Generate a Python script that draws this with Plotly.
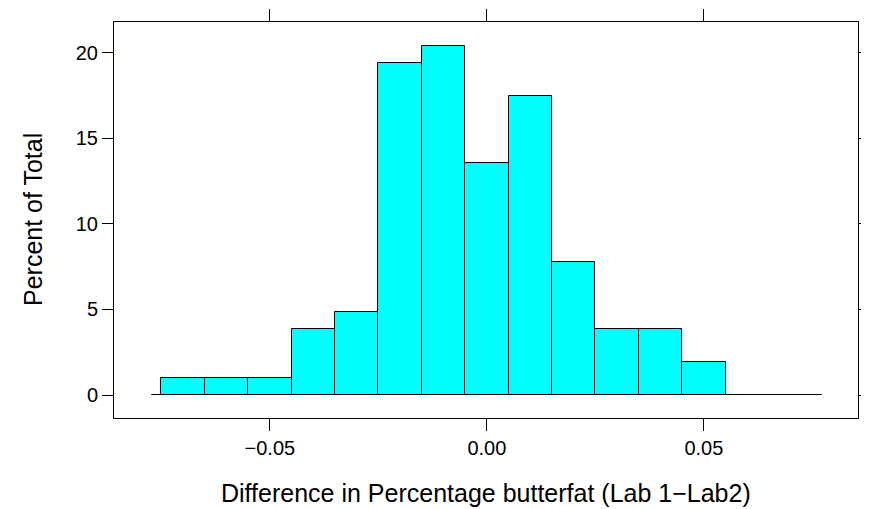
import plotly.graph_objects as go

# bin edges (Difference in % butterfat) and counts per bin
bin_edges = [-0.0772, -0.075, -0.065, -0.055, -0.045, -0.035, -0.025, -0.015, -0.005,
             0.005, 0.015, 0.025, 0.035, 0.045, 0.055, 0.065, 0.075, 0.0772]
counts = [0, 1, 1, 1, 4, 5, 20, 21, 14, 18, 8, 4, 4, 2, 0, 0, 0]
total = sum(counts)
percents = [c / total * 100 for c in counts]

x_tickvals = [-0.05, 0.0, 0.05]
x_ticktext = ["\u22120.05", "0.00", "0.05"]
y_tickvals = [0, 5, 10, 15, 20]

x_title = "Difference in Percentage butterfat (Lab 1\u2212Lab2)"
y_title = "Percent of Total"

centers = [(bin_edges[i] + bin_edges[i + 1]) / 2 for i in range(len(counts))]
widths = [bin_edges[i + 1] - bin_edges[i] for i in range(len(counts))]

fig = go.Figure()
fig.add_trace(go.Bar(
    x=centers, y=percents, width=widths, base=0,
    marker=dict(color="#00FFFF", line=dict(color="black", width=1)),
    hoverinfo="skip",
))

font = "Liberation Sans, Arial, Helvetica, sans-serif"
fig.update_layout(
    width=861, height=501,
    margin=dict(l=106, r=11, t=14, b=91),
    paper_bgcolor="white", plot_bgcolor="white",
    showlegend=False,
    bargap=0,
    font=dict(family=font, size=20, color="black"),
    xaxis=dict(
        range=[-0.0859, 0.0855], automargin=False,
        tickvals=x_tickvals, ticktext=x_ticktext,
        ticks="outside", ticklen=12, tickwidth=1, tickcolor="black",
        showline=True, linecolor="black", linewidth=1, mirror="ticks",
        showgrid=False, zeroline=False,
    ),
    yaxis=dict(
        range=[-1.345, 21.81], automargin=False,
        tickvals=y_tickvals,
        ticks="outside", ticklen=11, tickwidth=1, tickcolor="black",
        showline=True, linecolor="black", linewidth=1, mirror="ticks",
        showgrid=False, zeroline=False,
    ),
    annotations=[
        dict(text=x_title, xref="paper", yref="paper", x=0.5, y=0,
             yshift=-75, xanchor="center", yanchor="middle",
             showarrow=False, font=dict(size=25)),
        dict(text=y_title, xref="paper", yref="paper", x=0, y=0.5,
             xshift=-81, xanchor="center", yanchor="middle", textangle=-90,
             showarrow=False, font=dict(size=25)),
    ],
)

fig.write_html("out.html")
